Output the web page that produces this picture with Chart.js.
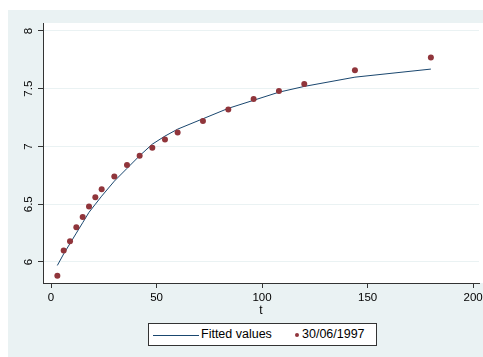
<!DOCTYPE html>
<html>
<head>
<meta charset="utf-8">
<script src="https://cdn.jsdelivr.net/npm/chart.js@4/dist/chart.umd.min.js"></script>
<style>
  html, body { margin: 0; padding: 0; background: #ffffff; }
  #wrap { position: relative; width: 483px; height: 357px; }
  #c { position: absolute; left: 0; top: 0; }
  #legend {
    position: absolute; left: 148px; top: 323px; width: 227px; height: 21px;
    border: 1px solid #333; background: #fff;
    font-family: "Liberation Sans", Arial, sans-serif; font-size: 12.5px; color: #000;
  }
  #legend .ln { position: absolute; left: 4px; top: 11px; width: 46px; height: 0; border-top: 1px solid #1a476f; }
  #legend .t1 { position: absolute; left: 52px; top: 3px; white-space: nowrap; }
  #legend .mk { position: absolute; left: 146px; top: 9px; width: 4px; height: 4px; border-radius: 50%; background: #90353b; }
  #legend .t2 { position: absolute; left: 153px; top: 3px; white-space: nowrap; }
</style>
</head>
<body>
<div id="wrap">
  <canvas id="c" width="483" height="357"></canvas>
  <div id="legend">
    <span class="ln"></span><span class="t1">Fitted values</span>
    <span class="mk"></span><span class="t2">30/06/1997</span>
  </div>
</div>
<script>
// Data
const tValues  = [3, 6, 9, 12, 15, 18, 21, 24, 30, 36, 42, 48, 54, 60, 72, 84, 96, 108, 120, 144, 180];
const observed = [5.88, 6.10, 6.18, 6.30, 6.39, 6.48, 6.56, 6.63, 6.74, 6.84, 6.92, 6.99, 7.06, 7.12, 7.22, 7.32, 7.41, 7.48, 7.54, 7.66, 7.77];
const fitted   = [5.97, 6.07, 6.16, 6.25, 6.34, 6.43, 6.50, 6.57, 6.70, 6.81, 6.92, 7.02, 7.09, 7.15, 7.24, 7.33, 7.40, 7.47, 7.52, 7.60, 7.67];
const xTicks = [0, 50, 100, 150, 200];
const yTicks = [6, 6.5, 7, 7.5, 8];
const seriesNames = ['Fitted values', '30/06/1997'];
const xTitle = 't';

const fitPts = tValues.map((t, i) => ({x: t, y: fitted[i]}));
const obsPts = tValues.map((t, i) => ({x: t, y: observed[i]}));

const bgPlugin = {
  id: 'bg',
  beforeDraw(chart) {
    const {ctx, chartArea: a} = chart;
    ctx.save();
    ctx.fillStyle = '#ffffff';
    ctx.fillRect(0, 0, chart.width, chart.height);
    ctx.fillStyle = '#eaf2f3';
    ctx.fillRect(8, 10, chart.width - 8, chart.height - 10);
    ctx.fillStyle = '#ffffff';
    ctx.fillRect(a.left, a.top, chart.width - a.left, a.bottom - a.top);
    ctx.restore();
  }
};

const font = {family: '"Liberation Sans", Arial, sans-serif', size: 11.5};
const noPad = s => { s.paddingLeft = 0; s.paddingRight = 0; s.paddingTop = 0; s.paddingBottom = 0; };

new Chart(document.getElementById('c'), {
  type: 'scatter',
  data: {
    datasets: [
      {label: seriesNames[0], data: fitPts, showLine: true, borderColor: '#1a476f', borderWidth: 1,
       pointRadius: 0, tension: 0, order: 2},
      {label: seriesNames[1], data: obsPts, showLine: false, backgroundColor: '#90353b',
       borderColor: '#90353b', borderWidth: 0, pointRadius: 3, pointStyle: 'circle', order: 1}
    ]
  },
  options: {
    responsive: false,
    animation: false,
    devicePixelRatio: 1,
    layout: {padding: {left: 8, top: 23, right: 0, bottom: 38}},
    plugins: {legend: {display: false}, tooltip: {enabled: false}},
    scales: {
      x: {
        type: 'linear', min: -3.8, max: 202.8,
        afterBuildTicks(s) { s.ticks = xTicks.map(v => ({value: v})); },
        afterFit(s) { s.height = 36; noPad(s); },
        border: {display: true, color: '#333', width: 1},
        grid: {drawOnChartArea: false, drawTicks: true, tickLength: 5, tickColor: '#333', tickWidth: 1},
        ticks: {font, color: '#000', padding: 3, maxRotation: 0, autoSkip: false, callback: v => String(v)},
        title: {display: true, text: xTitle, font: {family: font.family, size: 12}, color: '#000', padding: {top: 0, bottom: 1}}
      },
      y: {
        type: 'linear', min: 5.818, max: 8.069,
        afterBuildTicks(s) { s.ticks = yTicks.map(v => ({value: v})); },
        afterFit(s) { s.width = 35; noPad(s); },
        border: {display: true, color: '#333', width: 1},
        grid: {color: '#eaf2f3', lineWidth: 1, drawTicks: true, tickLength: 5, tickColor: '#333', tickWidth: 1},
        ticks: {font, color: '#000', padding: 1, minRotation: 90, maxRotation: 90, crossAlign: 'center', autoSkip: false, callback: v => String(v)}
      }
    }
  },
  plugins: [bgPlugin]
});
</script>
</body>
</html>
